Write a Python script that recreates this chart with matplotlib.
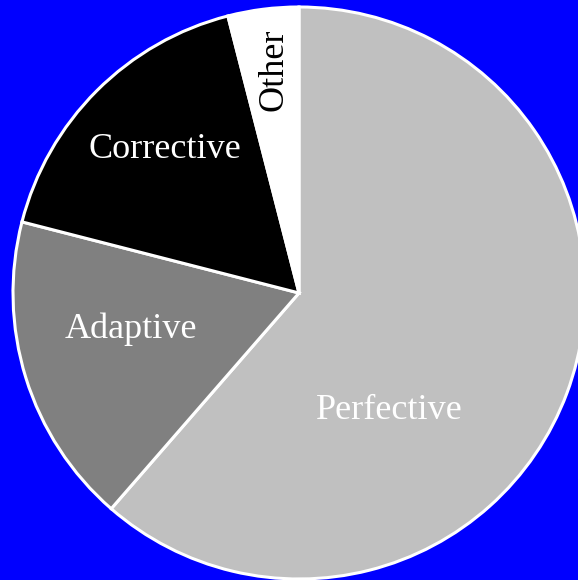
import matplotlib
matplotlib.use('Agg')
import matplotlib.pyplot as plt

# ── Data ─────────────────────────────────────────────────────────────────────
CATEGORIES = ['Perfective', 'Adaptive', 'Corrective', 'Other']
SHARES     = [61.4, 17.6, 17.0, 4.0]

# ── Style ────────────────────────────────────────────────────────────────────
COLOURS     = ['#c0c0c0', '#808080', '#000000', '#ffffff']
TEXT_COLOUR = ['white', 'white', 'white', 'black']
ROTATION    = [0, 0, 0, 90]
# label anchor (baseline centre) in units of pie radius
LABEL_XY    = [(0.315, -0.441), (-0.587, -0.157), (-0.469, 0.472), (-0.059, 0.781)]

W, H = 578, 580
CX, CY, R = 299, 293, 286   # pie centre / radius in pixels

fig = plt.figure(figsize=(W / 100, H / 100), dpi=100)
fig.patch.set_facecolor('#0000ff')
ax = fig.add_axes([0, 0, 1, 1])
ax.set_facecolor('#0000ff')

ax.pie(SHARES, colors=COLOURS, startangle=90, counterclock=False,
       radius=1.0, center=(0, 0),
       wedgeprops=dict(edgecolor='white', linewidth=2.2))

for name, (x, y), tc, rot in zip(CATEGORIES, LABEL_XY, TEXT_COLOUR, ROTATION):
    ax.text(x, y, name, color=tc, rotation=rot, rotation_mode='anchor',
            ha='center', va='baseline', fontsize=26,
            family='Liberation Serif')

ax.set_xlim(-CX / R, (W - CX) / R)
ax.set_ylim(-(H - CY) / R, CY / R)
ax.set_aspect('equal')
ax.axis('off')

fig.savefig('out.png', dpi=100, facecolor=fig.get_facecolor())
